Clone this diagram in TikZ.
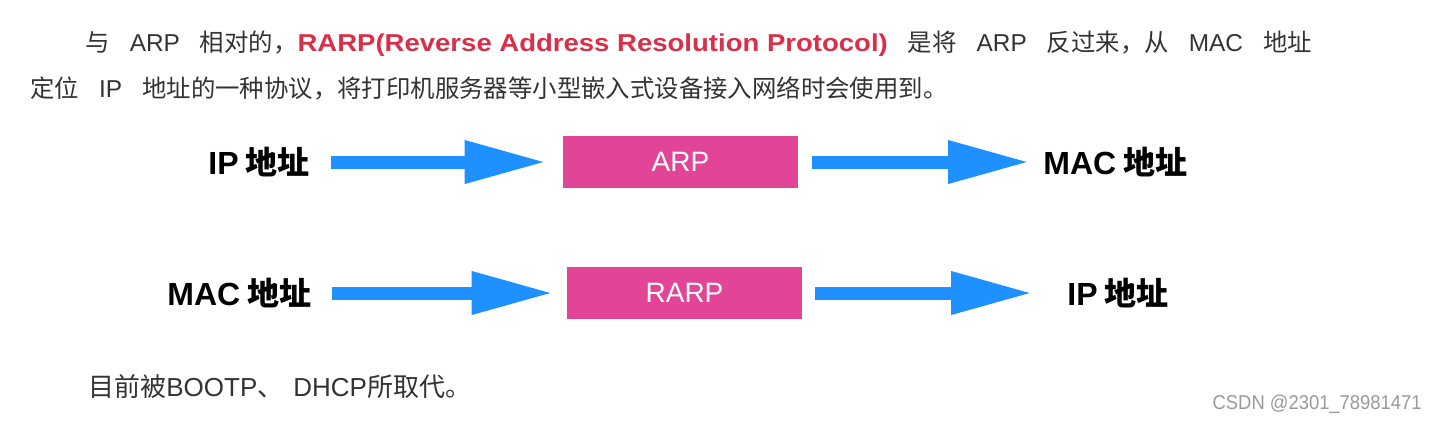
\documentclass[tikz,border=0pt]{standalone}
\usepackage{fontspec}
\setmainfont{Noto Sans CJK SC}
\newfontfamily\ltn{Liberation Sans}
\usetikzlibrary{arrows.meta}
\definecolor{bodytext}{HTML}{333333}
\definecolor{keyred}{HTML}{D8304A}
\definecolor{protopink}{HTML}{E24597}
\definecolor{flowblue}{HTML}{1E90FF}
\definecolor{markgray}{HTML}{9A9A9A}
\newcommand{\gp}{\hspace{10pt}}
\tikzset{
  para/.style={anchor=base west,inner sep=0pt,text=bodytext,font=\fontsize{12.2pt}{15pt}\selectfont},
  lbl/.style={anchor=west,inner sep=0pt,text=black,font=\fontsize{16pt}{19pt}\selectfont\bfseries},
  proto/.style={rectangle,fill=protopink,text=white,minimum width=117.5pt,minimum height=26pt,inner sep=0pt,font=\ltn\fontsize{14pt}{16pt}\selectfont},
  flow/.style={-{Triangle[length=41pt,width=20pt]},line width=6.5pt,draw=flowblue}
}
\begin{document}
\begin{tikzpicture}[x=0.5pt,y=-0.5pt]
\useasboundingbox[fill=white] (0,0) rectangle (1438,420);
\node[para] (intro) at (85,51) {与\gp{\ltn ARP}\gp 相对的，{\color{keyred}\scalebox{1.128}[1]{\ltn\bfseries RARP(Reverse Address Resolution Protocol)}}\gp 是将\gp{\ltn ARP}\gp 反过来，从\gp{\ltn MAC}\gp 地址};
\node[para] (introb) at (30,97) {定位\gp{\ltn IP}\gp 地址的一种协议，将打印机服务器等小型嵌入式设备接入网络时会使用到。};
\node[lbl] (ipA) at (208,162) {{\ltn IP} 地址};
\node[proto] (arp) at (680.5,162) {ARP};
\node[lbl] (macA) at (1043,162) {{\ltn MAC} 地址};
\node[lbl] (macB) at (167,293) {{\ltn MAC} 地址};
\node[proto] (rarp) at (684.5,293) {RARP};
\node[lbl] (ipB) at (1067,293) {{\ltn IP} 地址};
\draw[flow,shorten <=10.5pt,shorten >=8pt] (ipA) -- (arp);
\draw[flow,shorten <=7pt,shorten >=6.5pt] (arp) -- (macA);
\draw[flow,shorten <=10pt,shorten >=6.5pt] (macB) -- (rarp);
\draw[flow,shorten <=6.5pt,shorten >=17pt] (rarp) -- (ipB);
\node[para,font=\fontsize{13pt}{15pt}\selectfont] (note) at (88,396) {目前被{\ltn BOOTP}、\hspace{5pt}{\ltn DHCP}所取代。};
\node[anchor=base east,inner sep=0pt,text=markgray,font=\ltn\fontsize{10pt}{12pt}\selectfont] (mark) at (1422,409) {\scalebox{0.92}[1]{CSDN @2301\_78981471}};
\end{tikzpicture}
\end{document}
